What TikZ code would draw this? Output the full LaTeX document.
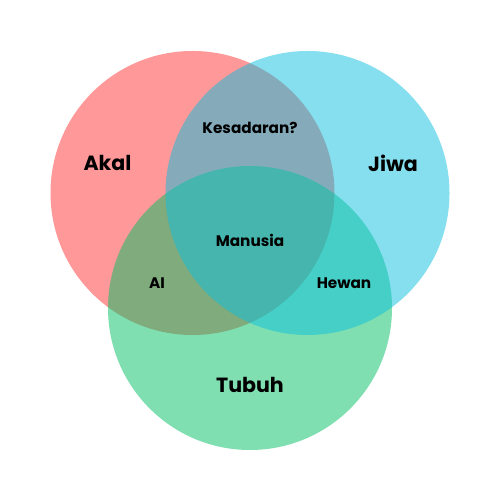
\documentclass[tikz,border=0pt]{standalone}
\usepackage{fontspec}
\setmainfont{Poppins}
\usepackage{tikz}
\usetikzlibrary{positioning}
\usepackage{xcolor}
\definecolor{akalred}{HTML}{FF3131}
\definecolor{jiwablue}{HTML}{0CC0DF}
\definecolor{tubuhgreen}{HTML}{00BF63}

\begin{document}
\begin{tikzpicture}[scale=1.0,
        set/.style={circle, draw=none, fill opacity=0.5, minimum size=5.68cm, inner sep=0pt},
        biglabel/.style={font=\bfseries\fontsize{11.7}{14}\selectfont, text=black},
        smalllabel/.style={font=\bfseries\fontsize{8.7}{10}\selectfont, text=black}
    ]

    \useasboundingbox (0,0) rectangle (10,10);

    %sets
    \node[set, fill=akalred] (akal) at (3.85,6.14) {};
    \node[set, fill=tubuhgreen] (tubuh) at (5,3.84) {};
    \node[set, fill=jiwablue] (jiwa) at (6.15,6.14) {};

    %labels
    \node[biglabel] (lakal) at (2.15,6.74) {Akal};
    \node[biglabel] (ljiwa) at (7.86,6.74) {Jiwa};
    \node[biglabel] (ltubuh) at (5,2.3) {Tubuh};
    \node[smalllabel] (kesadaran) at (5,7.44) {Kesadaran?};
    \node[smalllabel] (manusia) at (5,5.2) {Manusia};
    \node[smalllabel] (ai) at (3.14,4.34) {AI};
    \node[smalllabel] (hewan) at (6.88,4.34) {Hewan};

\end{tikzpicture}
\end{document}
